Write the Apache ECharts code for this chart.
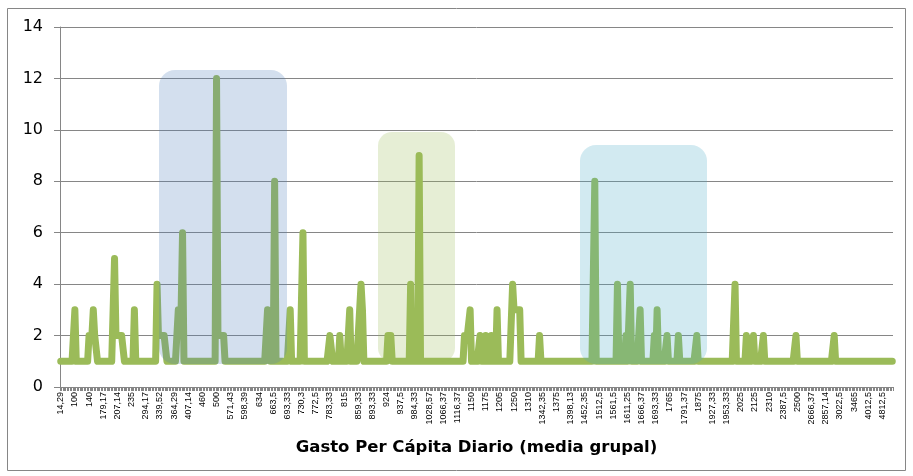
<!DOCTYPE html>
<html>
<head>
<meta charset="utf-8">
<script src="https://cdn.jsdelivr.net/npm/echarts@6/dist/echarts.min.js"></script>
<style>
html,body{margin:0;padding:0;background:#fff;}
#chart{width:913px;height:476px;}
</style>
</head>
<body>
<div id="chart"></div>
<script>
// Tick labels shown on the x axis (one every 10 categories)
var tickLabels = ["14,29","100","140","179,17","207,14","235","294,17","339,52","364,29","407,14",
  "460","500","571,43","598,39","634","663,5","693,33","730,3","772,5","783,33",
  "815","859,33","893,33","924","937,5","984,33","1028,57","1066,37","1116,37","1150",
  "1175","1205","1250","1310","1342,35","1375","1398,13","1452,35","1512,5","1561,5",
  "1611,25","1666,37","1693,33","1765","1791,37","1875","1927,33","1953,33","2025","2125",
  "2310","2387,5","2500","2666,37","2857,14","3022,5","3465","4012,5","4812,5"];

// Frequency per category, 588 categories
var counts = [
1,1,1,1,1,1,1,1,1,1,3,1,1,1,1,1,1,1,1,1,
2,2,2,3,2,2,1,1,1,1,1,1,1,1,1,1,1,1,5,2,
2,2,2,2,2,1,1,1,1,1,1,1,3,1,1,1,1,1,1,1,
1,1,1,1,1,1,1,1,4,2,2,2,2,2,2,1,1,1,1,1,
1,1,1,3,3,3,6,1,1,1,1,1,1,1,1,1,1,1,1,1,
1,1,1,1,1,1,1,1,1,1,12,2,2,2,2,2,1,1,1,1,
1,1,1,1,1,1,1,1,1,1,1,1,1,1,1,1,1,1,1,1,
1,1,1,1,1,1,3,3,1,1,1,8,1,1,1,1,1,1,1,1,
1,1,3,1,1,1,1,1,1,1,1,6,1,1,1,1,1,1,1,1,
1,1,1,1,1,1,1,1,1,1,2,2,1,1,1,1,1,2,1,1,
1,1,1,1,3,1,1,1,1,1,1,3,4,3,1,1,1,1,1,1,
1,1,1,1,1,1,1,1,1,1,1,2,2,2,1,1,1,1,1,1,
1,1,1,1,1,1,1,4,1,1,1,1,1,9,1,1,1,1,1,1,
1,1,1,1,1,1,1,1,1,1,1,1,1,1,1,1,1,1,1,1,
1,1,1,1,1,2,2,2,2,3,1,1,1,1,1,1,2,1,1,1,
2,1,1,1,2,1,1,1,3,1,1,1,1,1,1,1,1,1,1,4,
3,3,3,3,3,1,1,1,1,1,1,1,1,1,1,1,1,1,2,1,
1,1,1,1,1,1,1,1,1,1,1,1,1,1,1,1,1,1,1,1,
1,1,1,1,1,1,1,1,1,1,1,1,1,1,1,1,1,8,1,1,
1,1,1,1,1,1,1,1,1,1,1,1,1,4,1,1,1,1,1,2,
1,1,4,1,1,1,1,1,1,3,1,1,1,1,1,1,1,1,1,2,
1,3,1,1,1,1,1,1,2,1,1,1,1,1,1,1,2,1,1,1,
1,1,1,1,1,1,1,1,1,2,1,1,1,1,1,1,1,1,1,1,
1,1,1,1,1,1,1,1,1,1,1,1,1,1,1,1,4,1,1,1,
1,1,1,1,2,1,1,1,1,2,1,1,1,1,1,1,2,1,1,1,
1,1,1,1,1,1,1,1,1,1,1,1,1,1,1,1,1,1,1,2,
1,1,1,1,1,1,1,1,1,1,1,1,1,1,1,1,1,1,1,1,
1,1,1,1,1,1,2,1,1,1,1,1,1,1,1,1,1,1,1,1,
1,1,1,1,1,1,1,1,1,1,1,1,1,1,1,1,1,1,1,1,
1,1,1,1,1,1,1,1
];

var labelStep = 10;
var xTitle = "Gasto Per Cápita Diario (media grupal)";

// category table built from the tick labels
var categories = counts.map(function (v, i) {
  return (i % labelStep === 0 && tickLabels[i / labelStep] !== undefined) ? tickLabels[i / labelStep] : '';
});

var chart = echarts.init(document.getElementById('chart'), null, {renderer: 'canvas'});
var gray = '#868686';
var option = {
  animation: false,
  backgroundColor: '#ffffff',
  grid: {left: 60, right: 20, top: 27, bottom: 89, containLabel: false},
  xAxis: {
    type: 'category',
    data: categories,
    boundaryGap: true,
    axisLine: {lineStyle: {color: gray, width: 1}},
    axisTick: {show: true, interval: 0, length: 4, lineStyle: {color: gray}},
    axisLabel: {interval: labelStep - 1, rotate: 90, fontSize: 9, fontFamily: 'Liberation Sans', color: '#000', margin: 5, hideOverlap: false},
    splitLine: {show: false},
    name: xTitle,
    nameLocation: 'middle',
    nameGap: 52,
    nameTextStyle: {fontFamily: 'DejaVu Sans', fontWeight: 'bold', fontSize: 16.5, color: '#000'}
  },
  yAxis: {
    type: 'value',
    min: 0, max: 14, interval: 2,
    axisLine: {show: true, lineStyle: {color: gray}},
    axisTick: {show: true, length: 6, lineStyle: {color: gray}},
    axisLabel: {margin: 17, fontSize: 16, fontFamily: 'DejaVu Sans', color: '#000'},
    splitLine: {lineStyle: {color: gray, width: 1}}
  },
  series: [{
    type: 'line',
    data: counts,
    showSymbol: false,
    symbol: 'none',
    lineStyle: {color: '#9bbb59', width: 7, cap: 'round', join: 'round'},
    z: 2
  }],
  graphic: [
    {type: 'rect', z: 100, silent: true, shape: {x: 7.5, y: 8.5, width: 898, height: 462}, style: {fill: 'none', stroke: gray, lineWidth: 1}},
    {type: 'rect', z: 100, silent: true, shape: {x: 159, y: 70, width: 128, height: 294, r: 16}, style: {fill: 'rgba(79,129,189,0.25)'}},
    {type: 'rect', z: 100, silent: true, shape: {x: 378, y: 132, width: 77, height: 230, r: 14}, style: {fill: 'rgba(155,187,89,0.25)'}},
    {type: 'rect', z: 100, silent: true, shape: {x: 580, y: 145, width: 127, height: 219, r: 16}, style: {fill: 'rgba(75,172,198,0.25)'}}
  ]
};
chart.setOption(option);
</script>
</body>
</html>
